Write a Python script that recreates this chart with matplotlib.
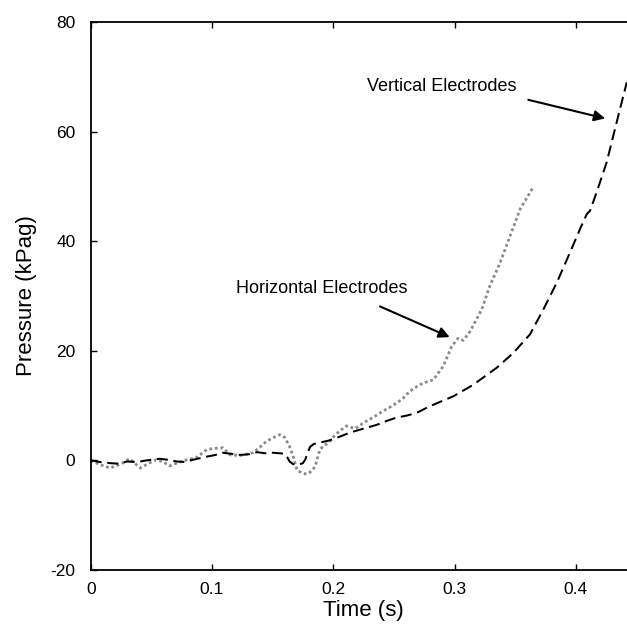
import matplotlib
matplotlib.use("Agg")
import matplotlib.pyplot as plt

plt.rcParams["font.family"] = ["Liberation Sans", "DejaVu Sans"]
plt.rcParams["axes.unicode_minus"] = False

# Vertical electrodes (dashed black)
t_vert = [0, 0.008, 0.016, 0.023, 0.030, 0.038, 0.046, 0.057, 0.064, 0.071, 0.078, 0.084,
          0.096, 0.103, 0.109, 0.116, 0.123, 0.130, 0.137, 0.144, 0.150, 0.156, 0.160, 0.162,
          0.164, 0.167, 0.171, 0.175, 0.177, 0.179, 0.181, 0.184, 0.190, 0.196, 0.205, 0.214,
          0.225, 0.236, 0.244, 0.252, 0.261, 0.269, 0.277, 0.285, 0.299, 0.3154, 0.3347,
          0.3484, 0.3622, 0.3731, 0.3842, 0.3951, 0.4034, 0.4089, 0.4105, 0.4116, 0.4171,
          0.4254, 0.435, 0.442]
p_vert = [0, -0.3, -0.5, -0.6, -0.2, -0.3, 0, 0.3, 0.1, -0.2, -0.3, 0.1,
          0.7, 1.0, 1.4, 1.2, 1.0, 1.1, 1.5, 1.3, 1.4, 1.3, 1.2, 0.6,
          -0.2, -0.7, -0.8, -0.5, 0.2, 1.5, 2.5, 3.0, 3.3, 3.6, 4.3, 5.1,
          5.8, 6.5, 7.2, 7.8, 8.2, 8.7, 9.6, 10.4, 11.7, 13.8, 16.9,
          19.6, 23.0, 27.5, 32.4, 37.9, 42.2, 44.9, 45.3, 45.5, 48.9,
          54.4, 62.9, 69.0]

# Horizontal electrodes (grey dotted)
t_horz = [0, 0.008, 0.016, 0.022, 0.027, 0.032, 0.041, 0.048, 0.054, 0.060, 0.065, 0.072,
          0.079, 0.087, 0.096, 0.103, 0.109, 0.115, 0.123, 0.134, 0.140, 0.145, 0.151, 0.156,
          0.160, 0.164, 0.167, 0.170, 0.174, 0.178, 0.182, 0.185, 0.189, 0.193, 0.196, 0.201,
          0.206, 0.211, 0.218, 0.226, 0.234, 0.241, 0.249, 0.257, 0.263, 0.269, 0.274, 0.2825,
          0.2907, 0.2976, 0.303, 0.3072, 0.3127, 0.3223, 0.329, 0.3374, 0.3457, 0.3539, 0.3649]
p_horz = [0, -0.8, -1.4, -0.9, -0.4, 0.3, -1.4, -0.5, 0.1, -0.3, -1.0, -0.4,
          0.1, 0.5, 2.0, 2.2, 2.3, 1.0, 0.9, 1.4, 2.5, 3.5, 4.2, 4.7,
          4.2, 2.5, 0.7, -1.7, -2.3, -2.5, -2.0, -1.1, 2.0, 2.8, 3.2, 4.5,
          5.5, 6.3, 5.8, 7.0, 8.0, 9.0, 10.0, 11.2, 12.6, 13.5, 14.1, 14.7,
          17.2, 20.8, 22.3, 21.9, 23.5, 27.5, 31.8, 36.0, 40.9, 45.8, 49.9]

x_ticks = [0, 0.1, 0.2, 0.3, 0.4]
x_tick_labels = ["0", "0.1", "0.2", "0.3", "0.4"]
y_ticks = [-20, 0, 20, 40, 60, 80]

W, H = 627, 628
fig = plt.figure(figsize=(W / 100, H / 100), dpi=100)
# axes run past the right edge of the image (picture is cropped there)
ax = fig.add_axes([90.7 / W, (H - 570) / H, (636.5 - 90.7) / W, (570 - 22) / H])

ax.plot(t_horz, p_horz, color="#8a8a8a", linestyle=(0, (1, 1)), lw=2.0)
ax.plot(t_vert, p_vert, color="black", linestyle=(0, (5.5, 2.8)), lw=1.45)

ax.set_xlim(0, 0.45)
ax.set_ylim(-20, 80)
ax.set_xticks(x_ticks)
ax.set_xticklabels(x_tick_labels)
ax.set_yticks(y_ticks)

for s in ax.spines.values():
    s.set_linewidth(1.3)
ax.spines["right"].set_visible(False)
ax.tick_params(axis="both", direction="in", length=4, width=1, labelsize=12.5,
               top=True, right=False, colors="black")
ax.tick_params(axis="x", pad=9)
ax.tick_params(axis="y", pad=11)

ax.set_xlabel("Time (s)", fontsize=16, labelpad=2)
ax.set_ylabel("Pressure (kPag)", fontsize=16, labelpad=10)

arrow = dict(arrowstyle="-|>", color="black", lw=1.5, mutation_scale=16,
             shrinkA=0, shrinkB=0)
ax.text(0.3512, 68.2, "Vertical Electrodes", ha="right", va="center", fontsize=13)
ax.annotate("", xy=(0.4241, 62.4), xytext=(0.3608, 65.8), arrowprops=arrow)
ax.text(0.2608, 31.3, "Horizontal Electrodes", ha="right", va="center", fontsize=13)
ax.annotate("", xy=(0.2960, 22.5), xytext=(0.2385, 28.1), arrowprops=arrow)

fig.savefig("out.png", dpi=100)
